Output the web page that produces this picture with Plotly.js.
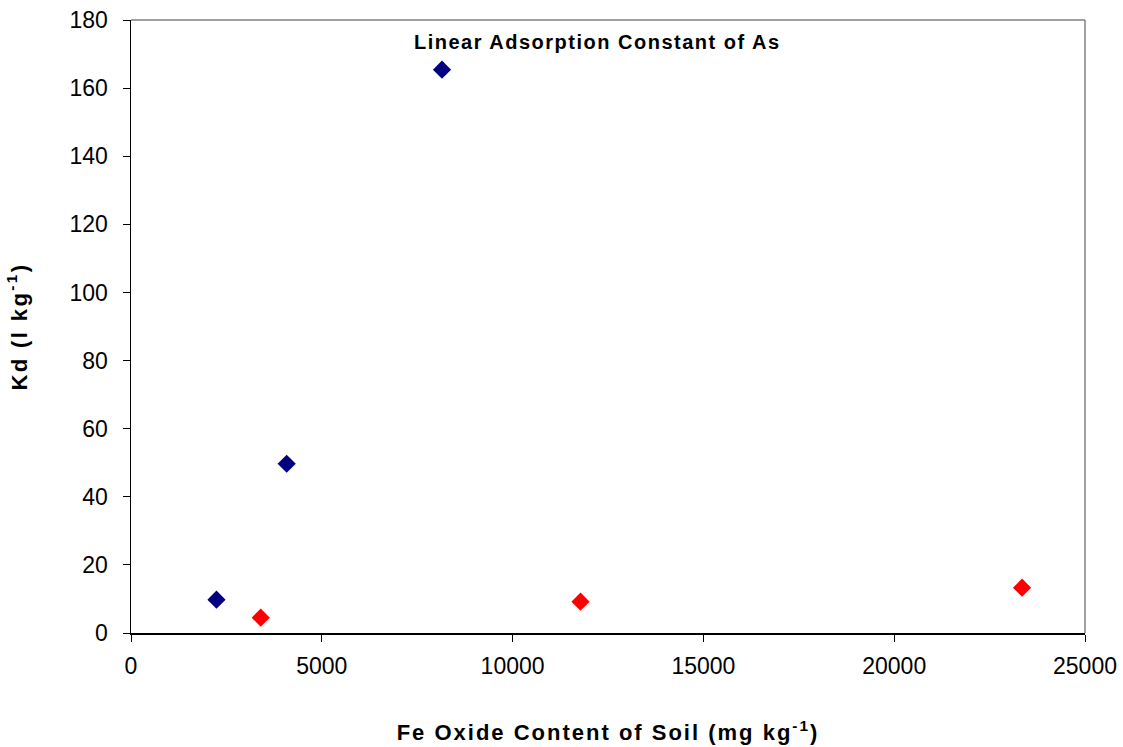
<!DOCTYPE html>
<html>
<head>
<meta charset="utf-8">
<script src="https://cdn.plot.ly/plotly-3.0.1.min.js"></script>
<style>
body{margin:0;padding:0;background:#fff;}
#chart{width:1123px;height:747px;}
.xtitle { letter-spacing: 2px; }
.ytitle { letter-spacing: 2.4px; }
.annotation-text { letter-spacing: 1.5px; }
</style>
</head>
<body>
<div id="chart"></div>
<script>
const blueX = [2240, 4080, 8150];
const blueY = [9.8, 49.7, 165.4];
const redX = [3400, 11780, 23350];
const redY = [4.5, 9.2, 13.3];
const chartTitle = "Linear Adsorption Constant of As";
const xTitle = "Fe Oxide Content of Soil (mg kg<sup>-1</sup>)";
const yTitle = "Kd (l kg<sup>-1</sup>)";

const font = "Liberation Sans, Arial, sans-serif";
const traces = [
  {x: blueX, y: blueY, type: "scatter", mode: "markers",
   marker: {symbol: "diamond", size: 14, color: "#000080"}, showlegend: false},
  {x: redX, y: redY, type: "scatter", mode: "markers",
   marker: {symbol: "diamond", size: 14, color: "#FF0000"}, showlegend: false}
];
const layout = {
  width: 1123, height: 747,
  margin: {l: 130.5, r: 38, t: 19.5, b: 113.5},
  paper_bgcolor: "#fff", plot_bgcolor: "#fff",
  font: {family: font, size: 20, color: "#000"},
  xaxis: {
    range: [0, 25000], dtick: 5000, tick0: 0, tickformat: "d",
    showgrid: false, zeroline: false,
    showline: true, linecolor: "#000", linewidth: 1.5,
    ticks: "outside", ticklen: 7, tickcolor: "#000", ticklabelstandoff: 5,
    tickfont: {family: font, size: 23},
    title: {text: xTitle, font: {family: font, size: 22, weight: "bold"}, standoff: 46}
  },
  yaxis: {
    range: [0, 180], dtick: 20, tick0: 0, tickformat: "d",
    showgrid: false, zeroline: false,
    showline: true, linecolor: "#000", linewidth: 1.5,
    ticks: "outside", ticklen: 7, tickcolor: "#000", ticklabelstandoff: 10,
    tickfont: {family: font, size: 23},
    title: {text: yTitle, font: {family: font, size: 22, weight: "bold"}, standoff: 36}
  },
  shapes: [
    {type: "line", xref: "paper", yref: "paper", x0: 0, x1: 1, y0: 1, y1: 1, line: {color: "#808080", width: 1.5}},
    {type: "line", xref: "paper", yref: "paper", x0: 1, x1: 1, y0: 0, y1: 1, line: {color: "#808080", width: 1.5}}
  ],
  annotations: [
    {text: "<b>" + chartTitle + "</b>", xref: "x", yref: "y", x: 12220, y: 173.5,
     showarrow: false, font: {family: font, size: 20, color: "#000"}, xanchor: "center", yanchor: "middle"}
  ]
};
Plotly.newPlot("chart", traces, layout, {displayModeBar: false, staticPlot: true});
</script>
</body>
</html>
